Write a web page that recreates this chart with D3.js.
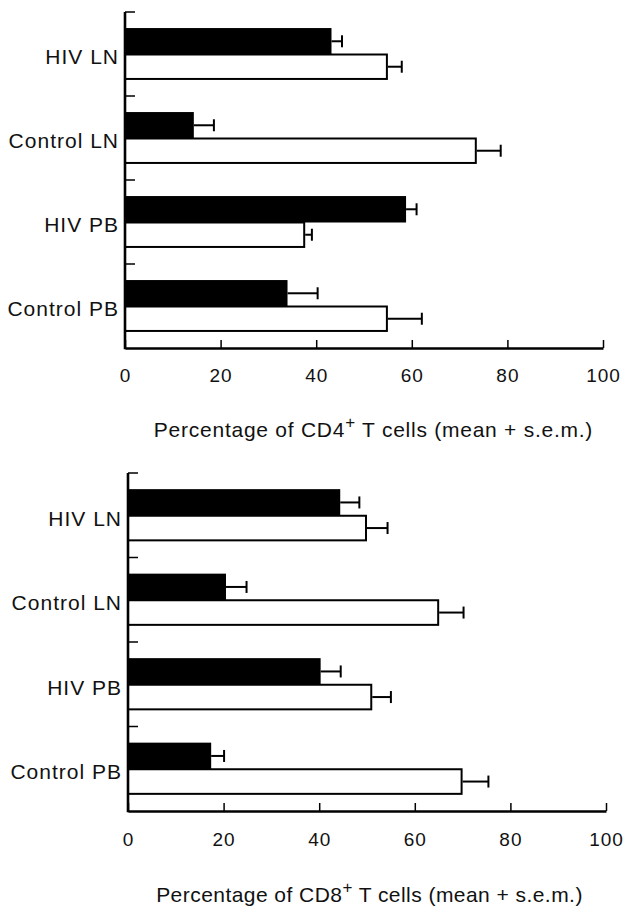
<!DOCTYPE html>
<html>
<head>
<meta charset="utf-8">
<script src="https://cdn.jsdelivr.net/npm/d3@7/dist/d3.min.js"></script>
<style>
  html, body { margin: 0; padding: 0; background: #fff; }
  svg { display: block; }
  text { font-family: "Liberation Sans", Arial, Helvetica, sans-serif; fill: #111; }
</style>
</head>
<body>
<svg id="chart" width="640" height="909"></svg>
<script>
// ---- data ----
const categories = ["HIV LN", "Control LN", "HIV PB", "Control PB"];
const series = ["filled", "open"];
const xTicks = [0, 20, 40, 60, 80, 100];

const cd4Filled    = [43.2, 14.4, 58.8, 34.0];
const cd4FilledSem = [2.2, 4.2, 2.2, 6.3];
const cd4Open      = [55.0, 73.6, 37.7, 55.0];
const cd4OpenSem   = [2.9, 5.0, 1.4, 7.1];

const cd8Filled    = [44.4, 20.5, 40.3, 17.4];
const cd8FilledSem = [4.0, 4.3, 4.2, 2.7];
const cd8Open      = [50.0, 65.1, 51.1, 70.0];
const cd8OpenSem   = [4.3, 5.1, 3.9, 5.4];

const panels = [
  { title: ["Percentage of CD4", "+", " T cells (mean + s.e.m.)"],
    values: [cd4Filled, cd4Open], sems: [cd4FilledSem, cd4OpenSem],
    x0: 125, x1: 603, y0: 12, y1: 348, tickY: 375, titleY: 430, titleX: 373.5, titleLs: 0.75 },
  { title: ["Percentage of CD8", "+", " T cells (mean + s.e.m.)"],
    values: [cd8Filled, cd8Open], sems: [cd8FilledSem, cd8OpenSem],
    x0: 128, x1: 606, y0: 473, y1: 811, tickY: 839, titleY: 895, titleX: 369.5, titleLs: 0.45 }
];

const svg = d3.select("#chart");

panels.forEach(p => {
  const g = svg.append("g");
  const x = d3.scaleLinear().domain([0, 100]).range([p.x0, p.x1]);
  const y = d3.scaleBand().domain(categories).range([p.y0, p.y1]).padding(0);
  const bw = y.bandwidth();
  const pad = bw * 0.197;
  const ys = d3.scaleBand().domain(series).range([pad, bw - pad]).padding(0);

  // bars
  series.forEach((s, si) => {
    const vals = p.values[si], sems = p.sems[si];
    categories.forEach((c, ci) => {
      const top = y(c) + ys(s);
      const h = ys.bandwidth();
      const v = vals[ci], e = sems[ci];
      const cy = top + h / 2;
      // error bar
      g.append("line")
        .attr("x1", x(v)).attr("x2", x(v + e))
        .attr("y1", cy).attr("y2", cy)
        .attr("stroke", "#000").attr("stroke-width", 2);
      g.append("line")
        .attr("x1", x(v + e)).attr("x2", x(v + e))
        .attr("y1", cy - 6).attr("y2", cy + 6)
        .attr("stroke", "#000").attr("stroke-width", 2);
      g.append("rect")
        .attr("x", x(0)).attr("y", top + 0.5)
        .attr("width", x(v) - x(0) - 1).attr("height", h - 1)
        .attr("fill", s === "filled" ? "#000" : "#fff")
        .attr("stroke", "#000").attr("stroke-width", 2);
    });
  });

  // x axis
  const xAxis = d3.axisBottom(x).tickValues(xTicks)
    .tickSizeInner(-8).tickSizeOuter(0).tickPadding(0).tickFormat(d3.format("d"));
  const ax = g.append("g").attr("transform", `translate(0,${p.y1})`).call(xAxis);
  ax.select(".domain").attr("stroke", "#000").attr("stroke-width", 2.6);
  ax.selectAll(".tick line").attr("stroke", "#000").attr("stroke-width", 1.5);
  ax.selectAll(".tick text")
    .attr("y", p.tickY - p.y1).attr("dy", "0.36em")
    .style("font-size", "19px").style("letter-spacing", "1px")
    .style("font-family", "'Liberation Sans', Arial, sans-serif")
    .attr("fill", "#111");

  // y axis line
  g.append("line")
    .attr("x1", x(0)).attr("x2", x(0))
    .attr("y1", p.y0).attr("y2", p.y1 + 1.3)
    .attr("stroke", "#000").attr("stroke-width", 2.6);
  // boundary ticks
  categories.forEach(c => {
    g.append("line")
      .attr("x1", x(0)).attr("x2", x(0) + 10)
      .attr("y1", y(c)).attr("y2", y(c))
      .attr("stroke", "#000").attr("stroke-width", 1.5);
  });
  // category labels
  categories.forEach(c => {
    g.append("text")
      .attr("x", x(0) - 6)
      .attr("y", y(c) + bw / 2 + 3)
      .attr("dy", "0.35em")
      .attr("text-anchor", "end")
      .style("font-size", "21px").style("letter-spacing", "1px")
      .text(c);
  });

  // title
  const t = g.append("text")
    .attr("x", p.titleX)
    .attr("y", p.titleY).attr("dy", "0.35em")
    .attr("text-anchor", "middle")
    .style("font-size", "21px").style("letter-spacing", p.titleLs + "px");
  t.append("tspan").text(p.title[0]);
  t.append("tspan").attr("baseline-shift", "super").style("font-size", "17px").text(p.title[1]);
  t.append("tspan").text(p.title[2]);
});
</script>
</body>
</html>
